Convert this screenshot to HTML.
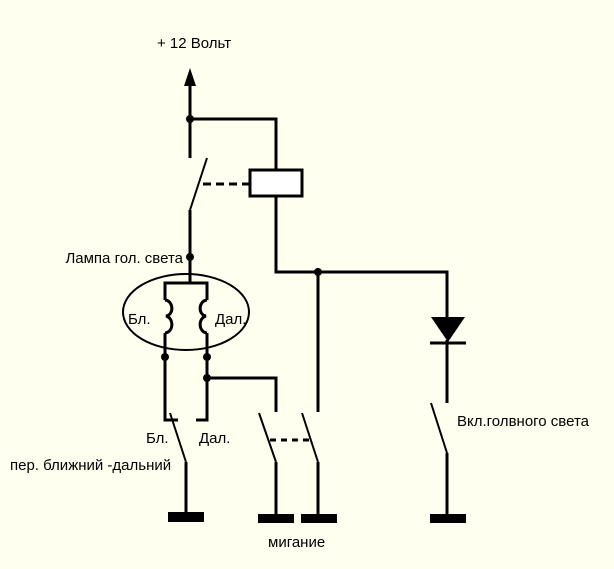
<!DOCTYPE html>
<html><head><meta charset="utf-8"><style>
html,body{margin:0;padding:0;background:#fffff0;}
svg{display:block;}
text{font-family:"Liberation Sans",sans-serif;font-size:15px;fill:#000;}
</style></head><body>
<svg width="614" height="569" viewBox="0 0 614 569" xmlns="http://www.w3.org/2000/svg">
<rect width="614" height="569" fill="#fffff0"/>
<g stroke="#000" stroke-width="3" fill="none">
<line x1="190" y1="84" x2="190" y2="158"/>
<polyline points="190,119 276,119 276,170"/>
<line x1="190" y1="210" x2="207" y2="158" stroke-width="2"/>
<line x1="190" y1="210" x2="190" y2="257"/>
<line x1="203" y1="184" x2="250" y2="184" stroke-dasharray="8,5"/>
<rect x="250" y="170" width="52" height="26" fill="#fff"/>
<polyline points="276,196 276,272 447,272 447,318"/>
<line x1="318" y1="272" x2="318" y2="412"/>
<line x1="447" y1="340" x2="447" y2="403"/>
<line x1="431" y1="403" x2="447" y2="453" stroke-width="2"/>
<line x1="447" y1="453" x2="447" y2="515"/>
<line x1="190" y1="257" x2="190" y2="283"/>
<ellipse cx="186" cy="312" rx="63" ry="38" stroke-width="2"/>
<polyline points="165,300 165,283 207,283 207,300"/>
<path d="M165,300 C174,301 174,315 166,316 C174,318 174,332 165,333"/>
<path d="M207,300 C198,301 198,315 206,316 C198,318 198,332 207,333"/>
<polyline points="165,333 165,420 178,420"/>
<polyline points="207,333 207,420 196,420"/>
<polyline points="207,378 276,378 276,412"/>
<line x1="170" y1="413" x2="186" y2="462" stroke-width="2"/>
<line x1="186" y1="462" x2="186" y2="513"/>
<line x1="259" y1="413" x2="276" y2="462" stroke-width="2"/>
<line x1="276" y1="462" x2="276" y2="515"/>
<line x1="302" y1="413" x2="318" y2="462" stroke-width="2"/>
<line x1="318" y1="462" x2="318" y2="515"/>
<line x1="270" y1="440" x2="312" y2="440" stroke-dasharray="6,5"/>
<line x1="430" y1="343" x2="466" y2="343"/>
</g>
<g fill="#000">
<polygon points="190,68 184,86 196,86"/>
<polygon points="431,317 465,317 448,342"/>
<circle cx="190" cy="119" r="4"/>
<circle cx="318" cy="272" r="4"/>
<circle cx="190" cy="257" r="4"/>
<circle cx="165" cy="357" r="4"/>
<circle cx="207" cy="357" r="4"/>
<circle cx="207" cy="378" r="4"/>
<rect x="168" y="512" width="36" height="10"/>
<rect x="258" y="514" width="36" height="9"/>
<rect x="301" y="514" width="36" height="9"/>
<rect x="430" y="514" width="36" height="9"/>
</g>
<text x="157" y="48">+ 12 Вольт</text>
<text x="183" y="263" text-anchor="end">Лампа гол. света</text>
<text x="128" y="324">Бл.</text>
<text x="215" y="324">Дал.</text>
<text x="146" y="443">Бл.</text>
<text x="199" y="443">Дал.</text>
<text x="10" y="470">пер. ближний -дальний</text>
<text x="457" y="426">Вкл.голвного света</text>
<text x="268" y="547">мигание</text>
</svg>
</body></html>
